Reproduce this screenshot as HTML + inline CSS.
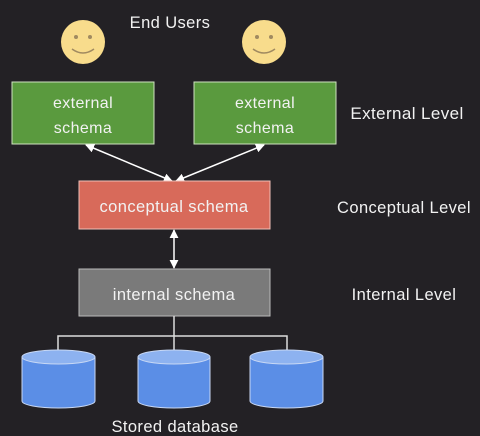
<!DOCTYPE html>
<html><head><style>
html,body{margin:0;padding:0;background:#232125;}
svg{display:block}
text{font-family:"Liberation Sans",sans-serif;fill:#f2f2f2;letter-spacing:0.4px;}
</style></head><body>
<svg width="480" height="436" viewBox="0 0 480 436" xmlns="http://www.w3.org/2000/svg">
<rect width="480" height="436" fill="#232125"/>
<defs>
<marker id="a" viewBox="0 0 10 10" refX="9" refY="5" markerWidth="6" markerHeight="6" orient="auto-start-reverse"><path d="M0,0 L10,5 L0,10 z" fill="#fff"/></marker>
</defs>
<text x="170" y="28" font-size="16.5" text-anchor="middle">End Users</text>
<g>
<circle cx="83" cy="42" r="22" fill="#f8dc8c"/>
<circle cx="76" cy="37" r="2" fill="#a08a60"/><circle cx="90" cy="37" r="2" fill="#a08a60"/>
<path d="M72,49 Q83,57 94,49" stroke="#a08a60" stroke-width="1.5" fill="none"/>
<circle cx="264" cy="42" r="22" fill="#f8dc8c"/>
<circle cx="257" cy="37" r="2" fill="#a08a60"/><circle cx="271" cy="37" r="2" fill="#a08a60"/>
<path d="M253,49 Q264,57 275,49" stroke="#a08a60" stroke-width="1.5" fill="none"/>
</g>
<rect x="12" y="82" width="142" height="62" fill="#5a9a3e" stroke="#cfe3c0" stroke-width="1"/>
<rect x="194" y="82" width="142" height="62" fill="#5a9a3e" stroke="#cfe3c0" stroke-width="1"/>
<text x="83" y="108" font-size="16" text-anchor="middle">external</text>
<text x="83" y="133" font-size="16" text-anchor="middle">schema</text>
<text x="265" y="108" font-size="16" text-anchor="middle">external</text>
<text x="265" y="133" font-size="16" text-anchor="middle">schema</text>
<text x="407" y="119" font-size="17" text-anchor="middle">External Level</text>
<line x1="86" y1="145" x2="172" y2="181" stroke="#fff" stroke-width="1.5" marker-start="url(#a)" marker-end="url(#a)"/>
<line x1="264" y1="145" x2="176" y2="181" stroke="#fff" stroke-width="1.5" marker-start="url(#a)" marker-end="url(#a)"/>
<rect x="79" y="181" width="191" height="48" fill="#d86a5a" stroke="#f0c0b8" stroke-width="1"/>
<text x="174" y="212" font-size="16.5" text-anchor="middle">conceptual schema</text>
<text x="404" y="213" font-size="16.5" text-anchor="middle">Conceptual Level</text>
<line x1="174" y1="230" x2="174" y2="268" stroke="#fff" stroke-width="1.5" marker-start="url(#a)" marker-end="url(#a)"/>
<rect x="79" y="269" width="191" height="47" fill="#7a7a7a" stroke="#bbb" stroke-width="1"/>
<text x="174" y="300" font-size="16.5" text-anchor="middle">internal schema</text>
<text x="404" y="300" font-size="16.5" text-anchor="middle">Internal Level</text>
<path d="M174,316 V336 M58,350 V336 H287 V350 M174,336 V350" stroke="#ddd" stroke-width="1.5" fill="none"/>
<g stroke="#c8d8f4" stroke-width="1">
<path d="M22,357 V401 A36.5,7 0 0 0 95,401 V357" fill="#5b8ee6"/>
<ellipse cx="58.5" cy="357" rx="36.5" ry="7" fill="#8db2f0"/>
<path d="M138,357 V401 A36,7 0 0 0 210,401 V357" fill="#5b8ee6"/>
<ellipse cx="174" cy="357" rx="36" ry="7" fill="#8db2f0"/>
<path d="M250,357 V401 A36.5,7 0 0 0 323,401 V357" fill="#5b8ee6"/>
<ellipse cx="286.5" cy="357" rx="36.5" ry="7" fill="#8db2f0"/>
</g>
<text x="175" y="432" font-size="16.5" text-anchor="middle">Stored database</text>
</svg>
</body></html>
